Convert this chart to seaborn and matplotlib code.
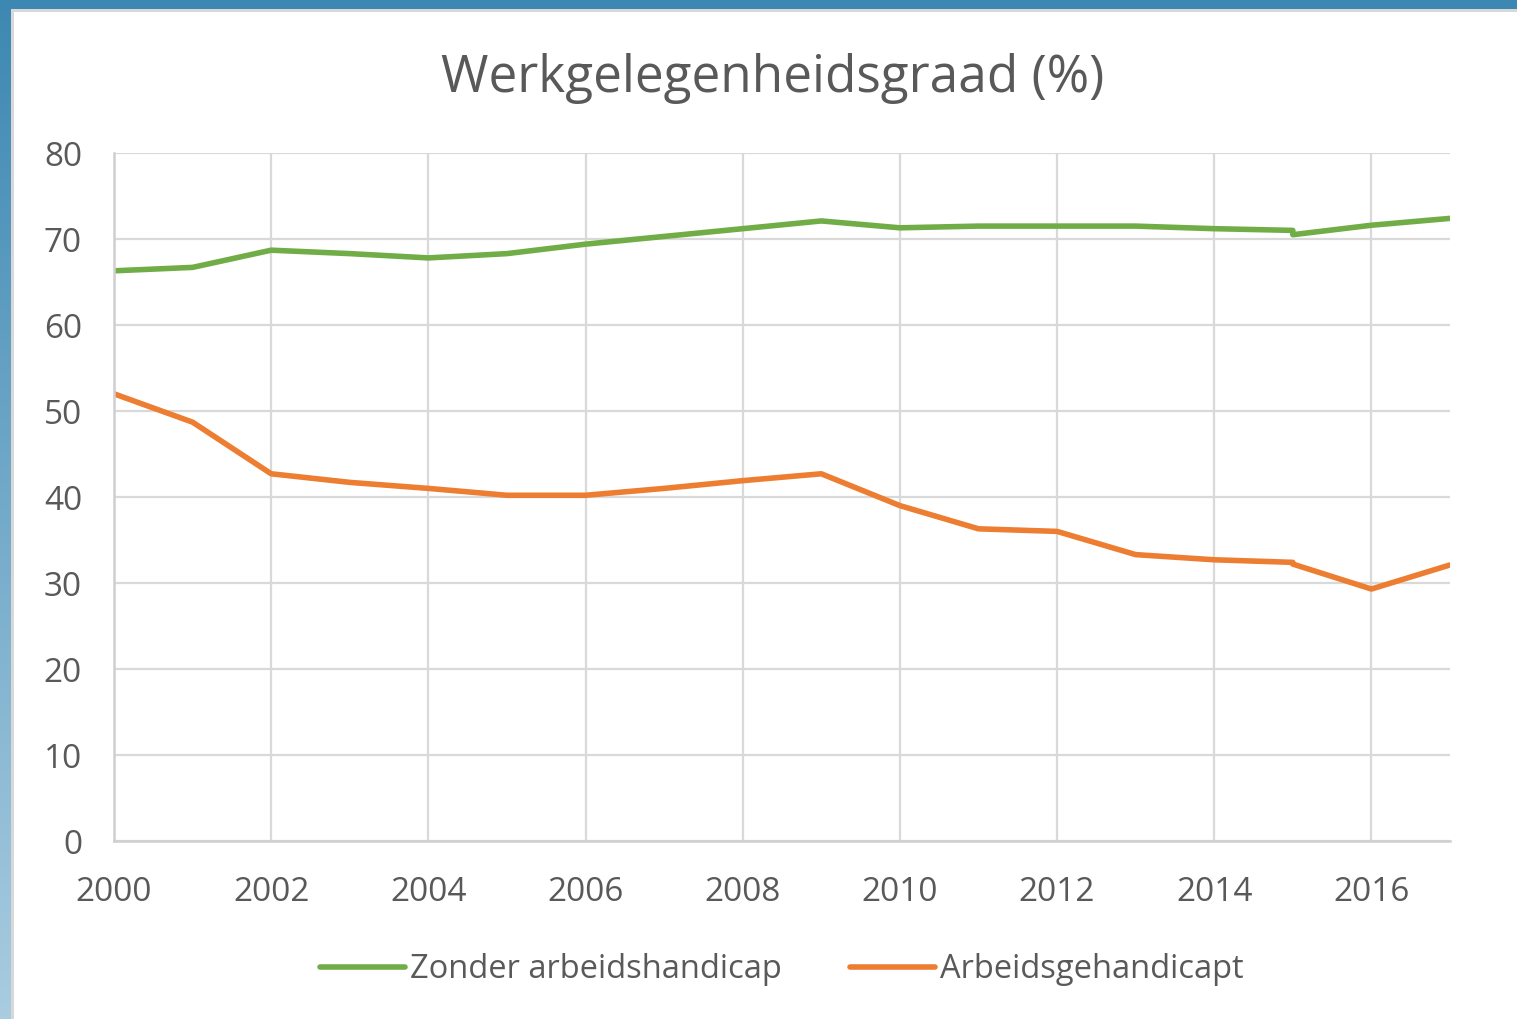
import numpy as np
import pandas as pd
import matplotlib
matplotlib.use("Agg")
import matplotlib.pyplot as plt
import seaborn as sns
from matplotlib.patches import Rectangle
from matplotlib.colors import LinearSegmentedColormap

years = [2000, 2001, 2002, 2003, 2004, 2005, 2006, 2007, 2008, 2009,
         2010, 2011, 2012, 2013, 2014, 2015, 2015, 2016, 2017]
zonder = [66.3, 66.7, 68.7, 68.3, 67.8, 68.3, 69.4, 70.3, 71.2, 72.1,
          71.3, 71.5, 71.5, 71.5, 71.2, 71.0, 70.5, 71.6, 72.4]
gehandicapt = [52.0, 48.7, 42.7, 41.7, 41.0, 40.2, 40.2, 41.0, 41.9, 42.7,
               39.0, 36.3, 36.0, 33.3, 32.7, 32.4, 32.2, 29.3, 32.1]
series_names = ["Zonder arbeidshandicap", "Arbeidsgehandicapt"]
colors = ["#70ad47", "#ed7d31"]
title = "Werkgelegenheidsgraad (%)"
xticks = [2000, 2002, 2004, 2006, 2008, 2010, 2012, 2014, 2016]
yticks = [0, 10, 20, 30, 40, 50, 60, 70, 80]

rows = []
for i, y in enumerate(years):
    rows.append({"jaar": y, "waarde": zonder[i], "reeks": series_names[0]})
for i, y in enumerate(years):
    rows.append({"jaar": y, "waarde": gehandicapt[i], "reeks": series_names[1]})
df = pd.DataFrame(rows)

sns.set_theme(style="white")
plt.rcParams['font.family'] = ['Open Sans', 'DejaVu Sans']

W, H = 1517, 1019
fig = plt.figure(figsize=(W / 100, H / 100), dpi=100)

# background gradient frame
bg = fig.add_axes([0, 0, 1, 1], zorder=-10)
grad = np.linspace(0, 1, 256).reshape(-1, 1)
cmap = LinearSegmentedColormap.from_list("frame", ["#3d88b2", "#a9cce0"])
bg.imshow(grad, aspect="auto", cmap=cmap, extent=[0, 1, 0, 1], origin="upper")
bg.add_patch(Rectangle((11 / W, 0), 1, 1 - 9 / H, facecolor="#d8d8d8",
                       edgecolor="none", transform=bg.transAxes))
bg.add_patch(Rectangle((14 / W, 0), 1, 1 - 12 / H, facecolor="white",
                       edgecolor="none", transform=bg.transAxes))
bg.set_xlim(0, 1)
bg.set_ylim(0, 1)
bg.axis("off")

ax = fig.add_axes([114 / W, 1 - 841 / H, (1450 - 114) / W, (841 - 153) / H])
ax.set_facecolor("none")
sns.lineplot(data=df, x="jaar", y="waarde", hue="reeks", palette=colors,
             sort=False, estimator=None, units="reeks", linewidth=4.0, ax=ax,
             legend=True)

ax.set_xlim(2000, 2017)
ax.set_ylim(0, 80)
ax.set_xticks(xticks)
ax.set_yticks(yticks)
ax.grid(True, color="#d9d9d9", linewidth=1.6)
ax.set_axisbelow(True)
for s in ["top", "right"]:
    ax.spines[s].set_visible(False)
for s in ["left", "bottom"]:
    ax.spines[s].set_color("#cfcfcf")
    ax.spines[s].set_linewidth(1.8)
ax.tick_params(axis="both", length=0, labelsize=24, labelcolor="#595959")
ax.tick_params(axis="x", pad=25)
ax.tick_params(axis="y", pad=23)
ax.set_xlabel("")
ax.set_ylabel("")

leg = ax.legend(loc="center", bbox_to_anchor=(0.5, (841 - 970) / (841 - 153)),
                ncol=2, frameon=False, fontsize=23.5, handlelength=2.6,
                handletextpad=0.15, columnspacing=2.1)
for t in leg.get_texts():
    t.set_color("#595959")
for h in leg.get_lines():
    h.set_linewidth(4.0)

fig.text(773 / W, 1 - 78 / H, title, ha="center", va="center",
         fontsize=37, color="#595959")

fig.savefig("out.png", dpi=100)
